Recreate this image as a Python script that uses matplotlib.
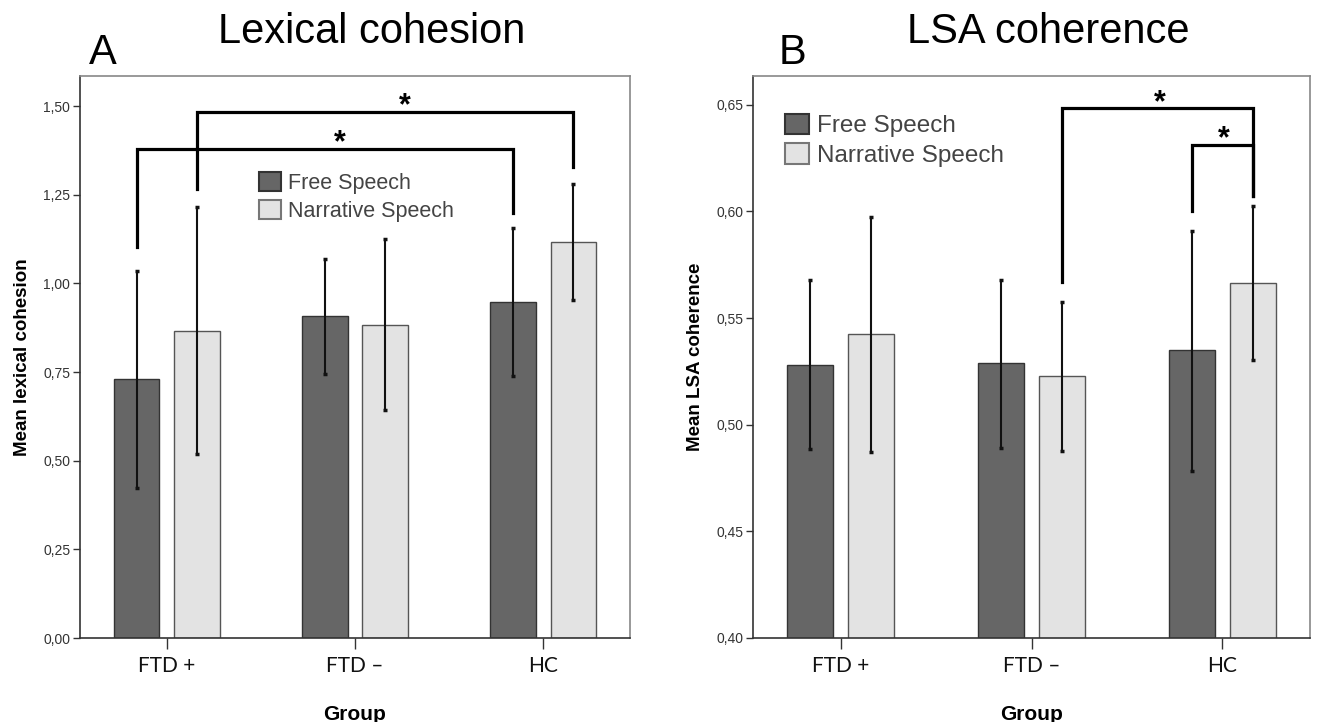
import numpy as np
import matplotlib
matplotlib.use('Agg')
import matplotlib.pyplot as plt
from matplotlib.patches import Patch
from matplotlib.ticker import FuncFormatter, FixedLocator

# Groups and series
groups = ['FTD +', 'FTD \u2013', 'HC']
series_names = ['Free Speech', 'Narrative Speech']

# Panel A: lexical cohesion (means and error bar ends)
lex_free = [0.730, 0.907, 0.947]
lex_free_lo = [0.424, 0.745, 0.738]
lex_free_hi = [1.035, 1.068, 1.155]
lex_narr = [0.866, 0.883, 1.117]
lex_narr_lo = [0.518, 0.643, 0.952]
lex_narr_hi = [1.215, 1.124, 1.281]

# Panel B: LSA coherence
lsa_free = [0.528, 0.529, 0.535]
lsa_free_lo = [0.4885, 0.489, 0.4784]
lsa_free_hi = [0.568, 0.568, 0.591]
lsa_narr = [0.5425, 0.523, 0.5666]
lsa_narr_lo = [0.4872, 0.4878, 0.5305]
lsa_narr_hi = [0.5975, 0.5574, 0.6024]

lex_ticks = [0.00, 0.25, 0.50, 0.75, 1.00, 1.25, 1.50]
lsa_ticks = [0.40, 0.45, 0.50, 0.55, 0.60, 0.65]

# significance brackets: (group1, series1, group2, series2, top, leg1 end, leg2 end, star x)
lex_brackets = [(0, 1, 2, 1, 1.484, 1.265, 1.329, 1.263),
                (0, 0, 2, 0, 1.380, 1.103, 1.199, 0.918)]
lsa_brackets = [(1, 1, 2, 1, 0.6484, 0.567, 0.6074, 1.675),
                (2, 0, 2, 1, 0.6312, 0.6003, 0.6074, 2.009)]

DARK = '#666666'
LIGHT = '#e3e3e3'
W = 0.243
OFF = 0.16

plt.rcParams['font.family'] = ['Liberation Sans', 'DejaVu Sans']

fig = plt.figure(figsize=(13.19, 7.22), dpi=100)
axA = fig.add_axes([80 / 1319, 84 / 722, 550 / 1319, 562 / 722])
axB = fig.add_axes([753 / 1319, 84 / 722, 557 / 1319, 562 / 722])


def comma(v, pos):
    return ('%.2f' % v).replace('.', ',')


def draw_panel(ax, free, flo, fhi, narr, nlo, nhi, ylim, ticks, ylabel, brackets):
    x = np.arange(len(groups))
    ax.bar(x - OFF, free, W, color=DARK, edgecolor='#333333', linewidth=1, zorder=2)
    ax.bar(x + OFF, narr, W, color=LIGHT, edgecolor='#555555', linewidth=1, zorder=2)
    for xs, m, lo, hi in [(x - OFF, free, flo, fhi), (x + OFF, narr, nlo, nhi)]:
        m = np.array(m)
        err = [m - np.array(lo), np.array(hi) - m]
        ax.errorbar(xs, m, yerr=err, fmt='none', ecolor='#111111', elinewidth=1.5,
                    capsize=1.2, capthick=2.5, zorder=3)
    for g1, s1, g2, s2, top, e1, e2, sx in brackets:
        x1 = g1 + (OFF if s1 else -OFF)
        x2 = g2 + (OFF if s2 else -OFF)
        ax.plot([x1, x1, x2, x2], [e1, top, top, e2], color='black', lw=2.3,
                solid_joinstyle='miter', zorder=4)
        ax.annotate('*', xy=(sx, top), xytext=(0, -2), textcoords='offset points',
                    ha='center', va='baseline', fontsize=22, fontweight='bold')
    ax.set_xlim(-0.46, 2.46)
    ax.set_ylim(*ylim)
    ax.yaxis.set_major_locator(FixedLocator(ticks))
    ax.yaxis.set_major_formatter(FuncFormatter(comma))
    ax.set_xticks(x)
    ax.set_xticklabels(groups, family=['Lato', 'DejaVu Sans'], fontsize=15, color='#111111')
    ax.tick_params(axis='x', length=8, width=1, color='#333333', pad=5)
    ax.tick_params(axis='y', length=5, width=1, color='#333333', labelsize=10,
                   labelcolor='#333333', pad=2)
    for s in ['left', 'bottom']:
        ax.spines[s].set_color('#333333')
        ax.spines[s].set_linewidth(1.2)
    for s in ['top', 'right']:
        ax.spines[s].set_color('#888888')
        ax.spines[s].set_linewidth(1.2)
    ax.set_ylabel(ylabel, fontsize=13.5, fontweight='bold', labelpad=9)
    ax.set_xlabel('Group', fontsize=15, fontweight='bold', labelpad=21)


draw_panel(axA, lex_free, lex_free_lo, lex_free_hi, lex_narr, lex_narr_lo, lex_narr_hi,
           (0, 1.585), lex_ticks, 'Mean lexical cohesion', lex_brackets)
draw_panel(axB, lsa_free, lsa_free_lo, lsa_free_hi, lsa_narr, lsa_narr_lo, lsa_narr_hi,
           (0.40, 0.6635), lsa_ticks, 'Mean LSA coherence', lsa_brackets)

handles = [Patch(facecolor=DARK, edgecolor='#333333', linewidth=1.5),
           Patch(facecolor=LIGHT, edgecolor='#777777', linewidth=1.5)]
legA = axA.legend(handles, series_names, loc='upper left', bbox_to_anchor=(0.31, 0.845),
                  frameon=False, fontsize=15.5, handlelength=1.0, handleheight=1.0,
                  handletextpad=0.35, labelspacing=0.3, borderaxespad=0)
legB = axB.legend(handles, series_names, loc='upper left', bbox_to_anchor=(0.04, 0.95),
                  frameon=False, fontsize=17.5, handlelength=1.0, handleheight=0.9,
                  handletextpad=0.3, labelspacing=0.25, borderaxespad=0)
for leg in (legA, legB):
    for t in leg.get_texts():
        t.set_color('#444444')

fig.text(89 / 1319, 0.912, 'A', fontsize=30, ha='left', va='baseline')
fig.text(372 / 1319, 0.9404, 'Lexical cohesion', fontsize=30, ha='center', va='baseline')
fig.text(779 / 1319, 0.912, 'B', fontsize=30, ha='left', va='baseline')
fig.text(1048 / 1319, 0.9404, 'LSA coherence', fontsize=30, ha='center', va='baseline')

fig.savefig('out.png', dpi=100)
